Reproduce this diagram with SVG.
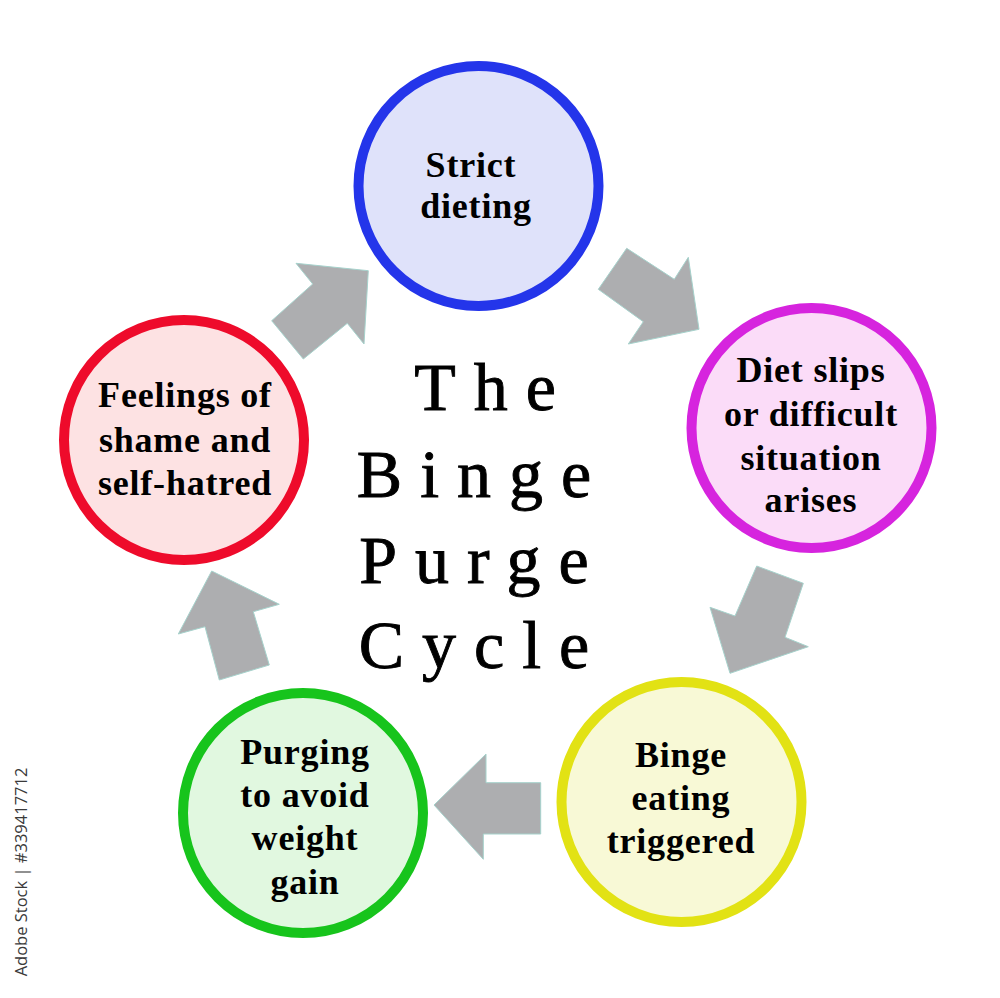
<svg xmlns="http://www.w3.org/2000/svg" width="1000" height="998" viewBox="0 0 1000 998">
<style>
.node circle{stroke-width:10}
.lbl{font-family:"Liberation Serif","Times New Roman",serif;font-weight:bold;font-size:36px;fill:#000;text-anchor:middle;letter-spacing:0.8px}
.title{font-family:"Liberation Serif","Times New Roman",serif;font-size:68px;fill:#000;stroke:#000;stroke-width:0.9px;text-anchor:middle;letter-spacing:18px}
.arrow{fill:#adaeb0;stroke:#a6d2cc;stroke-width:1;stroke-linejoin:miter}
.wm{font-family:"Open Sans","Noto Sans",sans-serif;font-size:16.5px;fill:#3a3a3a}
</style>
<rect width="1000" height="998" fill="#ffffff"/>
<g id="connectors">
<polygon class="arrow" points="626.7,248.3 674.3,279.3 688.3,257.3 699,329.3 628.3,344 643.3,321.7 598.3,289.3"/>
<polygon class="arrow" points="756.7,566 803.3,583.3 785,637.3 808.3,646.7 730,673.3 710,607.3 735,616"/>
<polygon class="arrow" points="540.7,782.7 540.7,834 483.3,834 483.3,859.3 434,805 486,754 486,782.7"/>
<polygon class="arrow" points="219.3,680 269.3,665 253.3,611.7 279.3,604.3 211.7,571 178.3,634 205,626.7"/>
<polygon class="arrow" points="271.7,320.7 303.3,359 347.3,323.3 364,344 368.3,270.7 296,263.3 312.7,284"/>
</g>
<g id="node-strict">
<circle cx="478.5" cy="186" r="120" fill="#dfe2fa" stroke="#2435ea" stroke-width="10"/>
<text class="lbl" x="471" y="177">Strict</text>
<text class="lbl" x="476" y="218">dieting</text>
</g>
<g id="node-diet">
<circle cx="811.5" cy="428" r="120" fill="#fbdcf8" stroke="#d624de" stroke-width="10"/>
<text class="lbl" x="811" y="382">Diet slips</text>
<text class="lbl" x="811" y="426">or difficult</text>
<text class="lbl" x="811" y="470">situation</text>
<text class="lbl" x="811" y="512">arises</text>
</g>
<g id="node-binge">
<circle cx="681.5" cy="802" r="120" fill="#f8f9d6" stroke="#e2e214" stroke-width="10"/>
<text class="lbl" x="681" y="767">Binge</text>
<text class="lbl" x="681" y="810">eating</text>
<text class="lbl" x="681" y="853">triggered</text>
</g>
<g id="node-purging">
<circle cx="303" cy="813" r="120" fill="#e1f8e0" stroke="#17c41c" stroke-width="10"/>
<text class="lbl" x="305" y="764">Purging</text>
<text class="lbl" x="305" y="807">to avoid</text>
<text class="lbl" x="305" y="850">weight</text>
<text class="lbl" x="305" y="894">gain</text>
</g>
<g id="node-shame">
<circle cx="184" cy="440" r="120" fill="#fde2e3" stroke="#ee0b2b" stroke-width="10"/>
<text class="lbl" x="185" y="407">Feelings of</text>
<text class="lbl" x="185" y="452">shame and</text>
<text class="lbl" x="185" y="495">self-hatred</text>
</g>
<g id="title">
<text class="title" x="494" y="410">The</text>
<text class="title" x="483" y="497">Binge</text>
<text class="title" x="483" y="583">Purge</text>
<text class="title" x="483" y="668">Cycle</text>
</g>
<text class="wm" transform="translate(27,872) rotate(-90)" text-anchor="middle">Adobe Stock | #339417712</text>
</svg>
